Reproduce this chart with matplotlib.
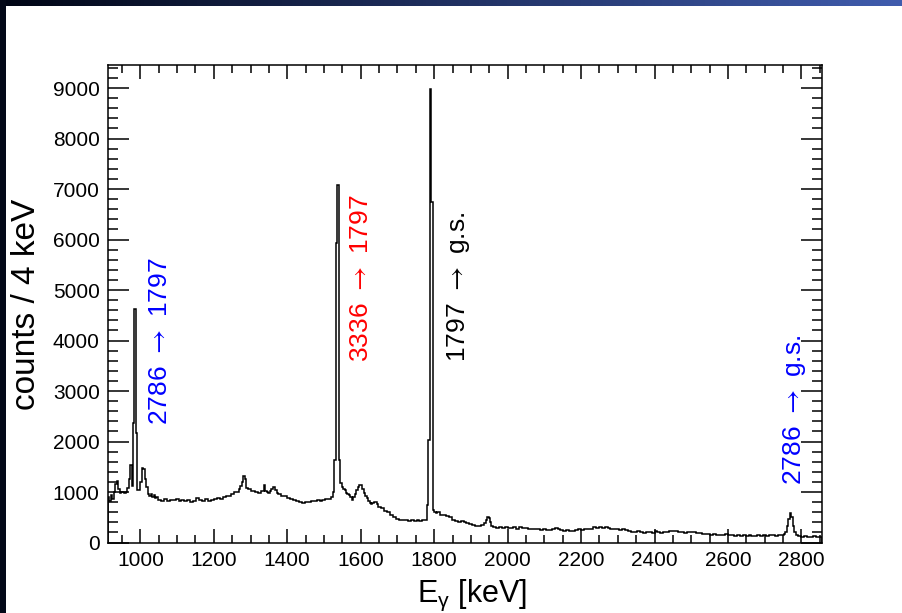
import numpy as np
import matplotlib.pyplot as plt
from matplotlib.ticker import MultipleLocator

plt.rcParams['font.family'] = ['Liberation Sans', 'DejaVu Sans']
plt.rcParams['mathtext.fontset'] = 'custom'
plt.rcParams['mathtext.rm'] = 'Liberation Sans'
plt.rcParams['mathtext.sf'] = 'STIXGeneral'

# gamma spectrum, left bin edges (keV) and counts per 4 keV
bin_left = [
    912, 916, 920, 924, 928, 932, 936, 940, 944, 948, 952, 956, 960, 964, 968, 972, 976,
    980, 984, 988, 992, 996, 1000, 1004, 1008, 1012, 1016, 1020, 1024, 1028, 1032, 1036,
    1040, 1044, 1048, 1056, 1064, 1072, 1080, 1088, 1096, 1104, 1112, 1120, 1128, 1136,
    1144, 1152, 1160, 1168, 1176, 1184, 1192, 1200, 1208, 1216, 1224, 1232, 1240, 1248,
    1256, 1264, 1268, 1272, 1276, 1280, 1284, 1288, 1292, 1296, 1300, 1304, 1312, 1320,
    1328, 1336, 1340, 1344, 1348, 1352, 1356, 1360, 1364, 1368, 1372, 1376, 1384, 1392,
    1400, 1408, 1416, 1424, 1432, 1440, 1448, 1456, 1464, 1472, 1480, 1488, 1496, 1504,
    1512, 1520, 1524, 1528, 1532, 1536, 1540, 1544, 1548, 1552, 1556, 1560, 1564, 1568,
    1572, 1576, 1580, 1584, 1588, 1592, 1596, 1600, 1604, 1608, 1612, 1616, 1620, 1624,
    1628, 1632, 1636, 1640, 1644, 1648, 1656, 1664, 1672, 1680, 1688, 1696, 1704, 1712,
    1720, 1728, 1736, 1744, 1752, 1760, 1768, 1776, 1780, 1784, 1788, 1792, 1796, 1800,
    1804, 1808, 1816, 1824, 1832, 1840, 1848, 1856, 1864, 1872, 1880, 1888, 1896, 1904,
    1912, 1920, 1928, 1936, 1940, 1944, 1948, 1952, 1956, 1960, 1968, 1976, 1984, 1992,
    2000, 2008, 2016, 2024, 2032, 2040, 2048, 2056, 2064, 2072, 2080, 2088, 2096, 2104,
    2112, 2120, 2128, 2136, 2144, 2152, 2160, 2168, 2176, 2184, 2192, 2200, 2208, 2216,
    2224, 2232, 2240, 2248, 2256, 2264, 2272, 2280, 2288, 2296, 2304, 2312, 2320, 2328,
    2336, 2344, 2352, 2360, 2368, 2376, 2384, 2392, 2400, 2408, 2416, 2424, 2432, 2440,
    2448, 2456, 2464, 2472, 2480, 2488, 2496, 2504, 2512, 2520, 2528, 2536, 2544, 2552,
    2560, 2568, 2576, 2584, 2592, 2600, 2608, 2616, 2624, 2632, 2640, 2648, 2656, 2664,
    2672, 2680, 2688, 2696, 2704, 2712, 2720, 2728, 2736, 2744, 2752, 2756, 2760, 2764,
    2768, 2772, 2776, 2780, 2784, 2792, 2800, 2808, 2816, 2824, 2832, 2840, 2848,
]
last_edge = 2856
counts = [
    900, 830, 950, 870, 1000, 1150, 1220, 1050, 990, 1000, 1000, 990, 1000, 1080, 1250, 1540, 1120,
    2366, 4620, 2170, 1040, 1030, 1200, 1482, 1460, 1250, 1100, 960, 920, 960, 900, 940,
    880, 900, 850, 830, 860, 820, 850, 840, 860, 830, 850, 820, 840, 810,
    830, 880, 840, 820, 860, 830, 850, 860, 880, 870, 900, 920, 930, 970,
    1000, 1000, 1060, 1120, 1200, 1320, 1250, 1080, 1060, 1050, 1020, 1010, 1000, 990,
    1010, 1130, 1010, 1000, 990, 1020, 1060, 1105, 1100, 1040, 980, 960, 930, 920,
    880, 860, 840, 820, 800, 790, 810, 800, 830, 820, 840, 830, 850, 860,
    870, 900, 1000, 1634, 5925, 7080, 1634, 1170, 1100, 1060, 1040, 990, 960, 950,
    900, 850, 900, 960, 1040, 1100, 1140, 1130, 1060, 980, 920, 880, 820, 780,
    760, 780, 800, 800, 760, 710, 680, 620, 600, 540, 500, 470, 450, 440,
    445, 430, 440, 420, 450, 430, 440, 450, 740, 2030, 8975, 6750, 640, 600,
    580, 610, 540, 550, 520, 500, 450, 420, 410, 420, 400, 380, 360, 340,
    330, 320, 340, 380, 440, 500, 480, 400, 330, 300, 290, 300, 290, 310,
    280, 290, 300, 270, 300, 290, 280, 270, 260, 270, 260, 250, 260, 250,
    240, 260, 280, 260, 240, 230, 240, 220, 230, 240, 260, 250, 260, 270,
    260, 300, 280, 310, 290, 300, 280, 270, 260, 270, 250, 260, 240, 230,
    210, 200, 220, 200, 190, 210, 200, 190, 230, 200, 190, 200, 210, 220,
    230, 220, 210, 200, 190, 200, 210, 200, 190, 180, 170, 160, 170, 150,
    160, 150, 140, 150, 160, 140, 150, 130, 140, 130, 140, 130, 140, 120,
    130, 140, 130, 140, 130, 150, 140, 130, 150, 140, 160, 200, 330, 460,
    580, 510, 320, 200, 140, 120, 110, 130, 110, 100, 120, 110, 100,
]

arrow = r'$\mathsf{\rightarrow}$'
labels = ['2786 ' + arrow + ' 1797', '3336 ' + arrow + ' 1797',
          '1797 ' + arrow + ' g.s.', '2786 ' + arrow + ' g.s.']
label_x = [1054, 1601, 1866, 2781]
label_y = [2330, 3574, 3574, 1140]
label_colors = ['#0000ff', '#ff0000', 'black', '#0000ff']

W, H = 902, 613
fig = plt.figure(figsize=(W / 100, H / 100), dpi=100)

# slide border (dark strips at the top and left)
top = fig.add_axes([0, 1 - 6 / H, 1, 6 / H])
grad = np.linspace(0, 1, 256)[None, :, None]
c0 = np.array([0.0, 0.02, 0.08])
c1 = np.array([0.25, 0.36, 0.68])
top.imshow(c0 + grad * (c1 - c0), aspect='auto', extent=[0, 1, 0, 1])
top.axis('off')
left = fig.add_axes([0, 0, 6 / W, 1])
left.set_facecolor('#030818')
left.set_xticks([])
left.set_yticks([])
for s in left.spines.values():
    s.set_visible(False)

ax = fig.add_axes([108 / W, 1 - 542.5 / H, (822 - 108) / W, (542.5 - 65.3) / H])
edges = bin_left + [last_edge]
ax.stairs(counts, edges, color='black', lw=1.1)

ax.set_xlim(912, 2856)
ax.set_ylim(0, 9450)
ax.xaxis.set_major_locator(MultipleLocator(200))
ax.xaxis.set_minor_locator(MultipleLocator(50))
ax.yaxis.set_major_locator(MultipleLocator(1000))
ax.yaxis.set_minor_locator(MultipleLocator(200))
ax.tick_params(axis='x', which='major', direction='in', length=10, width=1.1,
               top=True, labelsize=15, pad=6)
ax.tick_params(axis='x', which='minor', direction='in', length=5.5, width=1.1, top=True)
ax.tick_params(axis='y', which='major', direction='in', length=15, width=1.1,
               right=True, labelsize=15, pad=6)
ax.tick_params(axis='y', which='minor', direction='in', length=7.2, width=1.1, right=True)
for s in ax.spines.values():
    s.set_linewidth(1.1)

ax.set_xlabel(r'E$_{\mathrm{γ}}$ [keV]', fontsize=22, labelpad=2)
ax.xaxis.set_label_coords(0.51, -0.075)
ax.set_ylabel('counts / 4 keV', fontsize=24, labelpad=8)

for txt, x, y, c in zip(labels, label_x, label_y, label_colors):
    ax.text(x, y, txt, rotation=90, color=c, fontsize=19, ha='center', va='bottom')

fig.savefig('out.png', dpi=100)
